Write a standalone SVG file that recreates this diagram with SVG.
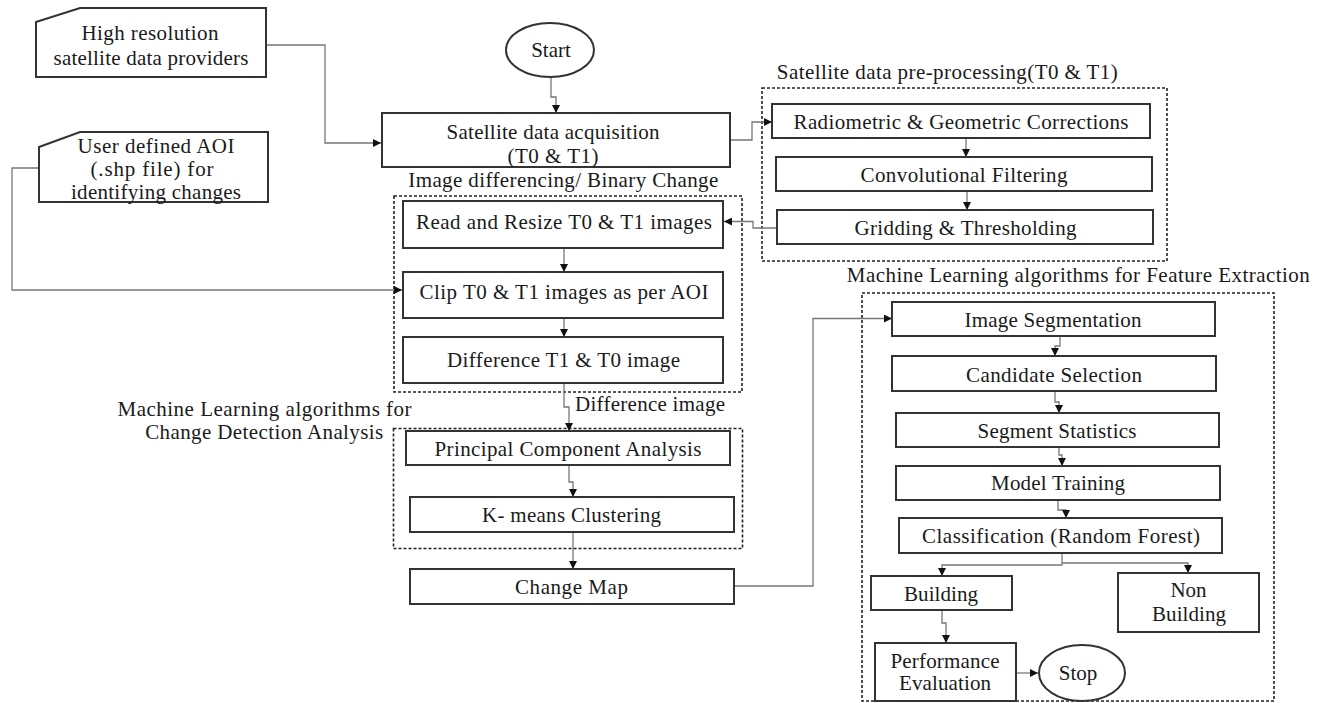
<svg xmlns="http://www.w3.org/2000/svg" width="1320" height="703" viewBox="0 0 1320 703">
<style>
  .bx{fill:#fff;stroke:#333;stroke-width:2}
  .dash{fill:none;stroke:#222;stroke-width:1.6;stroke-dasharray:3,2}
  .t{font-family:"Liberation Serif","Times New Roman",serif;font-size:21px;fill:#1a1a1a;text-anchor:middle}
  .tl{font-family:"Liberation Serif","Times New Roman",serif;font-size:21px;fill:#1a1a1a;text-anchor:start}
  .c{fill:none;stroke:#777;stroke-width:1.3;marker-end:url(#ah)}
</style>
<defs>
  <marker id="ah" viewBox="0 0 10 10" refX="10" refY="5" markerWidth="8" markerHeight="8" markerUnits="userSpaceOnUse" orient="auto">
    <path d="M0,0 L10,5 L0,10 z" fill="#111"/>
  </marker>
</defs>
<rect width="1320" height="703" fill="#fff"/>

<g id="group-labels">
  <text class="t" x="563.3" y="187" textLength="310" lengthAdjust="spacing">Image differencing/ Binary Change</text>
  <text class="t" x="947.3" y="79" textLength="341" lengthAdjust="spacing">Satellite data pre-processing(T0 &amp; T1)</text>
  <text class="t" x="1078.3" y="282" textLength="463" lengthAdjust="spacing">Machine Learning algorithms for Feature Extraction</text>
  <text class="t" x="264.5" y="416" textLength="294" lengthAdjust="spacing">Machine Learning algorithms for</text>
  <text class="t" x="264.2" y="439" textLength="238" lengthAdjust="spacing">Change Detection Analysis</text>
  <text class="tl" x="575" y="411" textLength="150" lengthAdjust="spacing">Difference image</text>
</g>

<g id="dashed-groups">
  <rect class="dash" x="762" y="88" width="405" height="173"/>
  <rect class="dash" x="394" y="196" width="348" height="196"/>
  <rect class="dash" x="393.5" y="428.5" width="349" height="120"/>
  <rect class="dash" x="862" y="293" width="412" height="408"/>
</g>

<g id="connectors">
  <path class="c" d="M266,45 H325 V143 H381"/>
  <path class="c" d="M39,168 H12 V290 H402"/>
  <path class="c" d="M551,77 V97 H556 V113"/>
  <path class="c" d="M730,140 H752 V122 H772"/>
  <path class="c" d="M966,138 V157"/>
  <path class="c" d="M967,191 V210"/>
  <path class="c" d="M777,228 H753 V221.5 H724"/>
  <path class="c" d="M564,248 V272"/>
  <path class="c" d="M564,318 V337"/>
  <path class="c" d="M564,383 V407 H569 V431"/>
  <path class="c" d="M569,465 V482 H573 V497"/>
  <path class="c" d="M573,532 V569"/>
  <path class="c" d="M734,586 H813 V318.5 H892"/>
  <path class="c" d="M1060,336 V346 H1055 V356"/>
  <path class="c" d="M1055,391 V402 H1059 V413"/>
  <path class="c" d="M1059,447 V455 H1062 V466"/>
  <path class="c" d="M1058,500 V510 H1066 V518"/>
  <path class="c" d="M1062,553 V565 H942 V576"/>
  <path class="c" d="M1062,563 H1188 V573"/>
  <path class="c" d="M942,610 V623 H946 V643"/>
  <path class="c" d="M1016,673 H1038"/>
</g>

<g id="high-res-providers">
  <polygon class="bx" points="36,22 80,8 266,8 266,77 36,77"/>
  <text class="t" x="150" y="40" textLength="137" lengthAdjust="spacing">High resolution</text>
  <text class="t" x="151" y="65" textLength="195" lengthAdjust="spacing">satellite data providers</text>
</g>

<g id="user-aoi">
  <polygon class="bx" points="39,147 80,132 268,132 268,202 39,202"/>
  <text class="t" x="156" y="153" textLength="157" lengthAdjust="spacing">User defined AOI</text>
  <text class="t" x="152" y="176" textLength="123" lengthAdjust="spacing">(.shp file) for</text>
  <text class="t" x="156" y="199" textLength="170" lengthAdjust="spacing">identifying changes</text>
</g>

<g id="start">
  <ellipse class="bx" cx="550" cy="50" rx="44" ry="27"/>
  <text class="t" x="551" y="57">Start</text>
</g>

<g id="acquisition">
  <rect class="bx" x="382" y="113" width="348" height="54"/>
  <text class="t" x="553" y="139" textLength="213" lengthAdjust="spacing">Satellite data acquisition</text>
  <text class="t" x="553" y="163" textLength="91" lengthAdjust="spacing">(T0 &amp; T1)</text>
</g>

<g id="radiometric">
  <rect class="bx" x="772" y="104" width="378" height="34"/>
  <text class="t" x="961" y="129" textLength="335" lengthAdjust="spacing">Radiometric &amp; Geometric Corrections</text>
</g>
<g id="convolutional">
  <rect class="bx" x="776" y="157" width="376" height="34"/>
  <text class="t" x="964" y="182" textLength="207" lengthAdjust="spacing">Convolutional Filtering</text>
</g>
<g id="gridding">
  <rect class="bx" x="777" y="210" width="376" height="34"/>
  <text class="t" x="965.5" y="235" textLength="222" lengthAdjust="spacing">Gridding &amp; Thresholding</text>
</g>

<g id="read-resize">
  <rect class="bx" x="403" y="201" width="320" height="47"/>
  <text class="t" x="564" y="229" textLength="296" lengthAdjust="spacing">Read and Resize T0 &amp; T1 images</text>
</g>
<g id="clip">
  <rect class="bx" x="403" y="272" width="320" height="46"/>
  <text class="t" x="564" y="299" textLength="289" lengthAdjust="spacing">Clip T0 &amp; T1 images as per AOI</text>
</g>
<g id="difference">
  <rect class="bx" x="403" y="337" width="320" height="46"/>
  <text class="t" x="563.5" y="367" textLength="233" lengthAdjust="spacing">Difference T1 &amp; T0 image</text>
</g>

<g id="pca">
  <rect class="bx" x="406" y="431" width="324" height="34"/>
  <text class="t" x="568" y="456" textLength="267" lengthAdjust="spacing">Principal Component Analysis</text>
</g>
<g id="kmeans">
  <rect class="bx" x="410" y="497" width="324" height="35"/>
  <text class="t" x="571.5" y="522" textLength="179" lengthAdjust="spacing">K- means Clustering</text>
</g>
<g id="change-map">
  <rect class="bx" x="410" y="569" width="324" height="35"/>
  <text class="t" x="571.5" y="594" textLength="113" lengthAdjust="spacing">Change Map</text>
</g>

<g id="image-segmentation">
  <rect class="bx" x="892" y="302" width="323" height="34"/>
  <text class="t" x="1053" y="327" textLength="177" lengthAdjust="spacing">Image Segmentation</text>
</g>
<g id="candidate-selection">
  <rect class="bx" x="892" y="356" width="324" height="35"/>
  <text class="t" x="1054" y="382" textLength="176" lengthAdjust="spacing">Candidate Selection</text>
</g>
<g id="segment-statistics">
  <rect class="bx" x="896" y="413" width="323" height="34"/>
  <text class="t" x="1057" y="438" textLength="159" lengthAdjust="spacing">Segment Statistics</text>
</g>
<g id="model-training">
  <rect class="bx" x="896" y="466" width="324" height="34"/>
  <text class="t" x="1058" y="490" textLength="134" lengthAdjust="spacing">Model Training</text>
</g>
<g id="classification">
  <rect class="bx" x="899" y="518" width="323" height="35"/>
  <text class="t" x="1061" y="543" textLength="278" lengthAdjust="spacing">Classification (Random Forest)</text>
</g>
<g id="building">
  <rect class="bx" x="871" y="576" width="141" height="34"/>
  <text class="t" x="941" y="601" textLength="74" lengthAdjust="spacing">Building</text>
</g>
<g id="non-building">
  <rect class="bx" x="1118" y="573" width="141" height="59"/>
  <text class="t" x="1188.5" y="597">Non</text>
  <text class="t" x="1189" y="621" textLength="74" lengthAdjust="spacing">Building</text>
</g>
<g id="performance-evaluation">
  <rect class="bx" x="875" y="643" width="141" height="58"/>
  <text class="t" x="945" y="668" textLength="109" lengthAdjust="spacing">Performance</text>
  <text class="t" x="945" y="690" textLength="92" lengthAdjust="spacing">Evaluation</text>
</g>
<g id="stop">
  <ellipse class="bx" cx="1082" cy="673" rx="43" ry="28"/>
  <text class="t" x="1078" y="680">Stop</text>
</g>
</svg>
